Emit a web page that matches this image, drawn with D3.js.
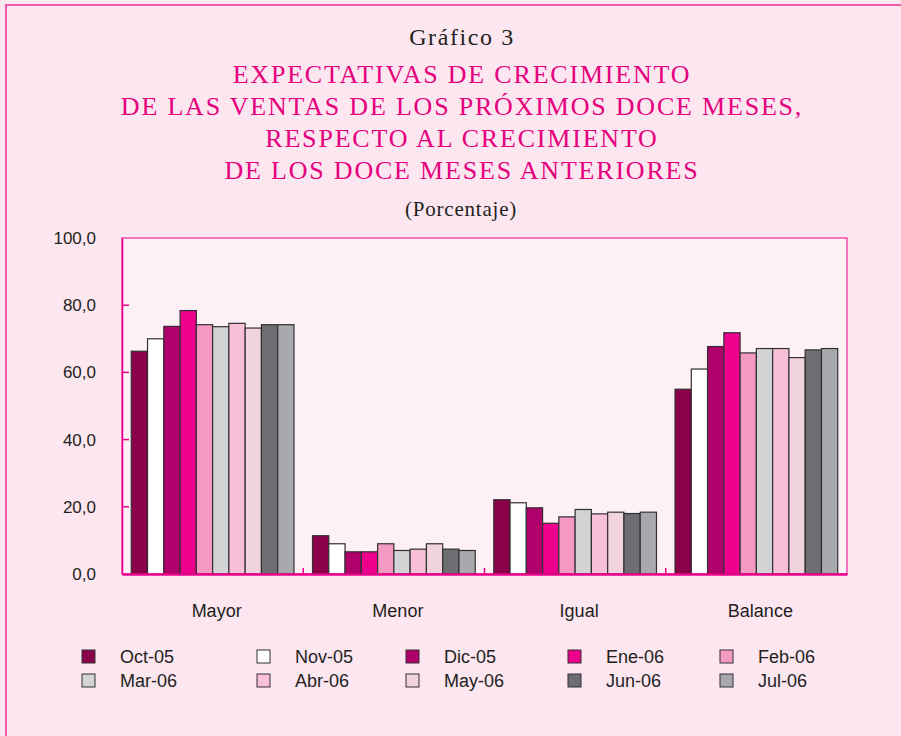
<!DOCTYPE html>
<html>
<head>
<meta charset="utf-8">
<script src="https://cdn.jsdelivr.net/npm/d3@7"></script>
<style>
  body { margin: 0; background: #fce6f0; }
  svg { display: block; }
</style>
</head>
<body>
<div id="chart"></div>
<script>
var svgWidth = 901;
var svgHeight = 736;

// data
var categories = ["Mayor", "Menor", "Igual", "Balance"];
var months = ["Oct-05", "Nov-05", "Dic-05", "Ene-06", "Feb-06", "Mar-06", "Abr-06", "May-06", "Jun-06", "Jul-06"];
var mayor   = [66.3, 70.0, 73.7, 78.4, 74.2, 73.6, 74.6, 73.2, 74.2, 74.2];
var menor   = [11.4, 9.0, 6.6, 6.6, 9.0, 7.0, 7.4, 9.0, 7.4, 7.0];
var igual   = [22.1, 21.2, 19.7, 15.1, 17.0, 19.2, 17.9, 18.4, 18.0, 18.4];
var balance = [55.0, 61.0, 67.7, 71.8, 65.8, 67.1, 67.1, 64.4, 66.7, 67.1];
var yTicks = [0, 20, 40, 60, 80, 100];
var colors = ["#8a0049", "#ffffff", "#b0006b", "#ec008c", "#f49ac2", "#d1d3d4", "#f7c0d8", "#f1d3de", "#6d6e71", "#a7a9ac"];

var titleLines = ["EXPECTATIVAS DE CRECIMIENTO", "DE LAS VENTAS DE LOS PRÓXIMOS DOCE MESES,",
  "RESPECTO AL CRECIMIENTO", "DE LOS DOCE MESES ANTERIORES"];

var values = [mayor, menor, igual, balance];

var margin = { top: 238, right: 54, bottom: 162, left: 122 };
var width = svgWidth - margin.left - margin.right;
var height = svgHeight - margin.top - margin.bottom;

var svg = d3.select("#chart")
  .append("svg")
  .attr("width", svgWidth)
  .attr("height", svgHeight);

// outer frame
svg.append("rect")
  .attr("x", 6).attr("y", 5)
  .attr("width", svgWidth + 10).attr("height", svgHeight + 10)
  .attr("fill", "#fce6f0")
  .attr("stroke", "#ee5aa8")
  .attr("stroke-width", 2);

// titles
svg.append("text")
  .attr("x", 462).attr("y", 45)
  .attr("text-anchor", "middle")
  .style("font-family", "'Liberation Serif', serif")
  .style("font-size", "24px")
  .style("letter-spacing", "1.6px")
  .attr("fill", "#231f20")
  .text("Gráfico 3");

svg.selectAll(".title")
  .data(titleLines)
  .enter()
  .append("text")
  .attr("class", "title")
  .attr("x", 462)
  .attr("y", (d, i) => 83 + i * 32)
  .attr("text-anchor", "middle")
  .style("font-family", "'Liberation Serif', serif")
  .style("font-size", "26px")
  .style("letter-spacing", "1.8px")
  .attr("fill", "#e6007e")
  .text(d => d);

svg.append("text")
  .attr("x", 461).attr("y", 216)
  .attr("text-anchor", "middle")
  .style("font-family", "'Liberation Serif', serif")
  .style("font-size", "21px")
  .style("letter-spacing", "0.8px")
  .attr("fill", "#231f20")
  .text("(Porcentaje)");

var chartGroup = svg.append("g")
  .attr("transform", `translate(${margin.left}, ${margin.top})`);

// plot background
chartGroup.append("rect")
  .attr("width", width).attr("height", height)
  .attr("fill", "#fdf1f5")
  .attr("stroke", "#ec008c")
  .attr("stroke-width", 1);

var x0 = d3.scaleBand().domain(categories).range([0, width]);
var x1 = d3.scaleBand().domain(months).range([0, x0.bandwidth()]).paddingOuter(0.57);
var y = d3.scaleLinear().domain([0, 100]).range([height, 0]);

// y axis, ticks pointing inward
var leftAxis = d3.axisLeft(y).tickValues(yTicks).tickSize(0).tickPadding(26)
  .tickFormat(d => d3.format(".1f")(d).replace(".", ","));
var yAxis = chartGroup.append("g").call(leftAxis);
yAxis.select(".domain").attr("stroke", "#ec008c").attr("stroke-width", 1.5);
yAxis.selectAll("text")
  .style("font-family", "'Liberation Sans', Arial, sans-serif")
  .style("font-size", "17px")
  .attr("fill", "#231f20");
chartGroup.selectAll(".ytick")
  .data(yTicks.filter(d => d > 0 && d < 100))
  .enter()
  .append("line")
  .attr("class", "ytick")
  .attr("x1", 0).attr("x2", 7)
  .attr("y1", d => y(d)).attr("y2", d => y(d))
  .attr("stroke", "#ec008c").attr("stroke-width", 1.5);

// bars
var groups = chartGroup.selectAll(".cat")
  .data(categories)
  .enter()
  .append("g")
  .attr("class", "cat")
  .attr("transform", d => `translate(${x0(d)}, 0)`);

groups.selectAll("rect")
  .data((d, i) => values[i].map((v, j) => ({ month: months[j], value: v, color: colors[j] })))
  .enter()
  .append("rect")
  .attr("x", d => x1(d.month))
  .attr("y", d => y(d.value))
  .attr("width", x1.bandwidth())
  .attr("height", d => height - y(d.value))
  .attr("fill", d => d.color)
  .attr("stroke", "#333033")
  .attr("stroke-width", 1.2);

// x axis
var bottomAxis = d3.axisBottom(x0).tickSize(0).tickPadding(30);
var xAxis = chartGroup.append("g")
  .attr("transform", `translate(0, ${height})`)
  .call(bottomAxis);
xAxis.select(".domain").attr("stroke", "#ec008c").attr("stroke-width", 2.5);
xAxis.selectAll("text")
  .attr("dx", 4)
  .style("font-family", "'Liberation Sans', Arial, sans-serif")
  .style("font-size", "18px")
  .attr("fill", "#231f20");
chartGroup.selectAll(".xtick")
  .data(categories.slice(1))
  .enter()
  .append("line")
  .attr("class", "xtick")
  .attr("x1", d => x0(d)).attr("x2", d => x0(d))
  .attr("y1", height).attr("y2", height - 6)
  .attr("stroke", "#ec008c").attr("stroke-width", 1.5);

// legend
var legendCols = [82, 257, 406, 568, 720];
var legend = svg.selectAll(".legend")
  .data(months)
  .enter()
  .append("g")
  .attr("class", "legend")
  .attr("transform", (d, i) => `translate(${legendCols[i % 5]}, ${650 + Math.floor(i / 5) * 24})`);

legend.append("rect")
  .attr("width", 13).attr("height", 13)
  .attr("fill", (d, i) => colors[i])
  .attr("stroke", "#333033")
  .attr("stroke-width", 1);

legend.append("text")
  .attr("x", 38).attr("y", 13)
  .style("font-family", "'Liberation Sans', Arial, sans-serif")
  .style("font-size", "18px")
  .attr("fill", "#231f20")
  .text(d => d);
</script>
</body>
</html>
